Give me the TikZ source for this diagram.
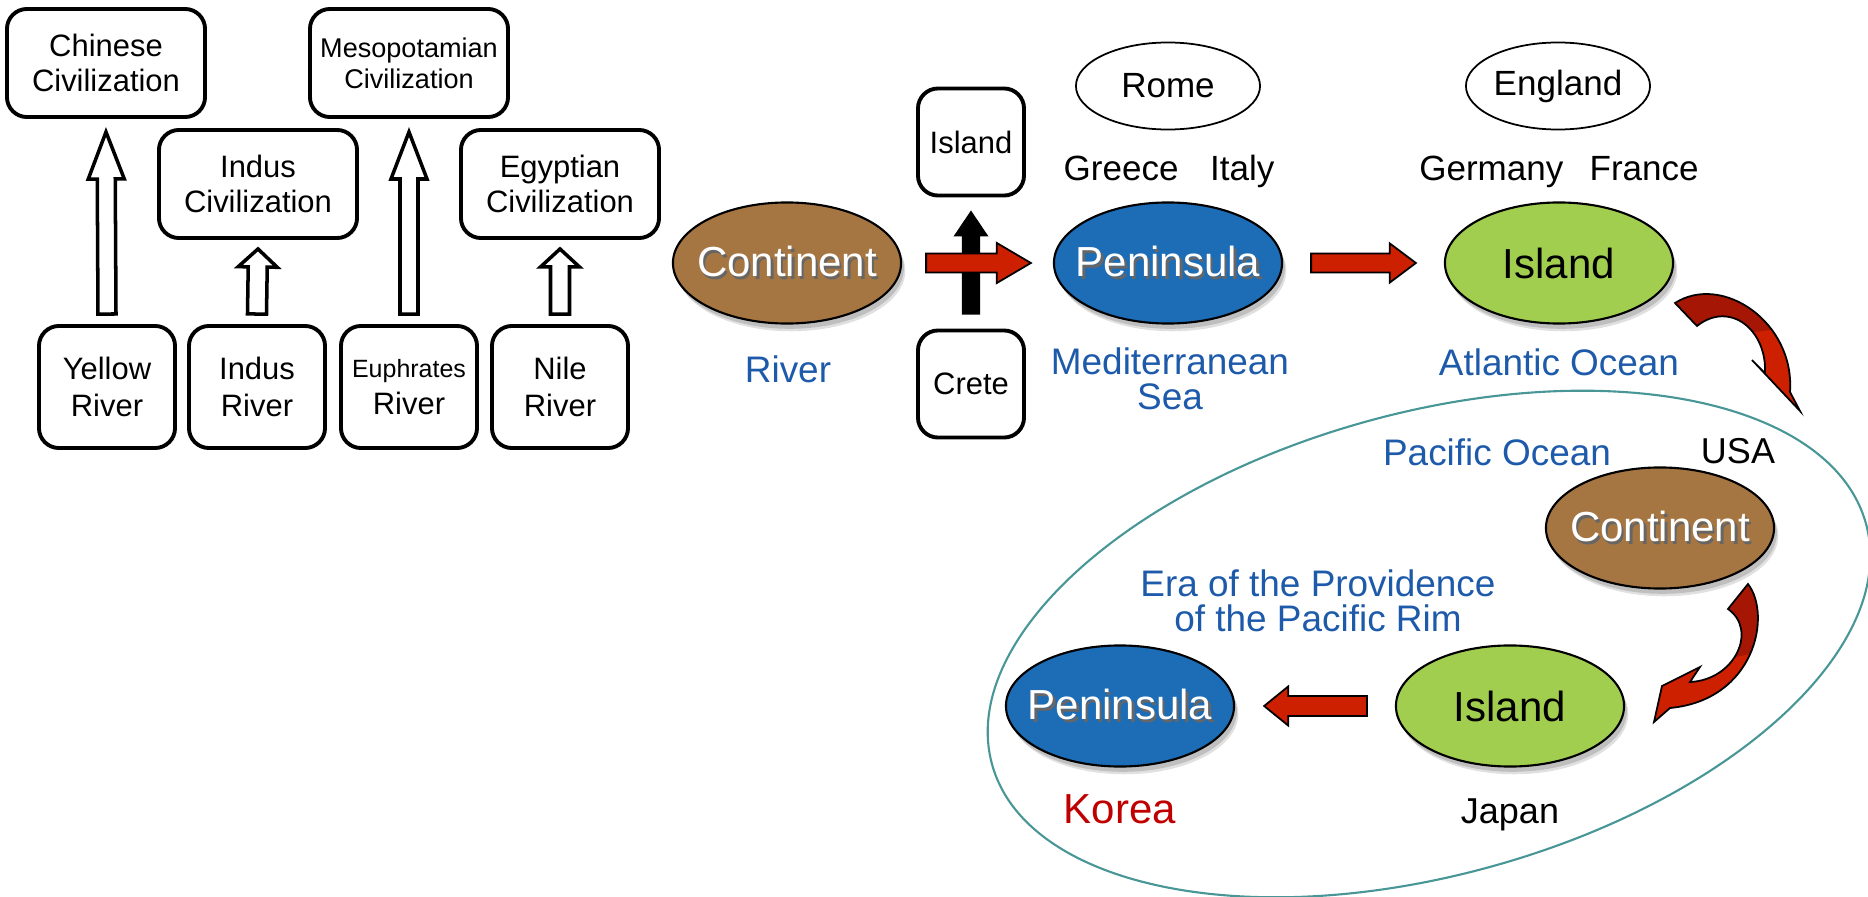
\documentclass[tikz,border=0pt]{standalone}
\usepackage{fontspec}
\setmainfont{Liberation Sans}
\usepackage{tikz}
\usetikzlibrary{shapes.geometric, arrows.meta, positioning, calc, shadows}

\definecolor{contbrown}{RGB}{166,118,66}
\definecolor{peniblue}{RGB}{28,108,182}
\definecolor{islegreen}{RGB}{162,206,80}
\definecolor{arrred}{RGB}{204,32,0}
\definecolor{arrdark}{RGB}{166,22,4}
\definecolor{seablue}{RGB}{30,90,170}
\definecolor{koreared}{RGB}{192,0,0}
\definecolor{rimteal}{RGB}{72,150,150}

% white text with a small dark shadow
\newcommand{\lit}[1]{\leavevmode\rlap{\kern0.7pt\raisebox{-0.9pt}{\textcolor{black!60}{#1}}}#1}

% block arrow: style, tail, tip, shaft half width, head half width, head length
\newcommand{\blockarrow}[6]{%
  \coordinate (ba-t) at #2;
  \coordinate (ba-h) at #3;
  \coordinate (ba-b) at ($(ba-h)!#6!(ba-t)$);
  \path[#1] ($(ba-t)!#4!90:(ba-h)$) -- ($(ba-b)!#4!90:(ba-h)$) -- ($(ba-b)!#5!90:(ba-h)$)
    -- (ba-h) -- ($(ba-b)!#5!-90:(ba-h)$) -- ($(ba-b)!#4!-90:(ba-h)$)
    -- ($(ba-t)!#4!-90:(ba-h)$) -- cycle;}

% the two bent arrows
\newcommand{\bendone}{(1675,303) .. controls (1722,273) and (1795,322) .. (1790,392)
  -- (1800,411) -- (1752,360) -- (1765,373) .. controls (1767,330) and (1730,300) .. (1697,326) -- cycle}
\newcommand{\bendtwo}{(1748,584) .. controls (1772,615) and (1755,700) .. (1670,708)
  -- (1654,722) -- (1662,686) -- (1700,667) -- (1690,682) .. controls (1735,680) and (1758,630) .. (1728,609) -- cycle}

\begin{document}
\begin{tikzpicture}[
    x=0.01cm, y=-0.01cm,
    every node/.style={inner sep=0pt},
    civbox/.style={draw, line width=1.1pt, rounded corners=0.2cm, minimum width=1.98cm,
                minimum height=1.08cm, align=center, font=\fontsize{8.8}{10.2}\selectfont},
    rivbox/.style={civbox, minimum width=1.36cm, minimum height=1.22cm,
                font=\fontsize{8.8}{10.5}\selectfont},
    isbox/.style={civbox, minimum width=1.06cm, minimum height=1.07cm},
    softshadow/.style={drop shadow={shadow xshift=1.2pt, shadow yshift=-2.2pt, opacity=.12, fill=black},
                drop shadow={shadow xshift=0.8pt, shadow yshift=-1.5pt, opacity=.15, fill=black}},
    landmass/.style={ellipse, draw, line width=0.6pt, minimum width=2.28cm, minimum height=1.21cm,
                inner xsep=-0.2cm, font=\fontsize{11.95}{14}\selectfont, softshadow},
    continent/.style={landmass, fill=contbrown, text=white},
    peninsula/.style={landmass, fill=peniblue, text=white},
    island/.style={landmass, fill=islegreen},
    city/.style={ellipse, draw, line width=0.5pt, minimum width=1.84cm, minimum height=0.87cm,
                font=\fontsize{9.96}{12}\selectfont},
    country/.style={anchor=base, font=\fontsize{9.96}{12}\selectfont},
    sea/.style={text=seablue, align=center, font=\fontsize{10.5}{9.8}\selectfont},
    hollow/.style={draw, fill=white, line width=1pt},
    redblock/.style={draw, fill=arrred, line width=0.5pt},
    blackblock/.style={fill=black},
    rim/.style={draw=rimteal, line width=0.6pt}
]
\useasboundingbox (0,0) rectangle (1868,897);

% four river civilizations
\node[civbox] (chinese) at (106,63) {Chinese\\Civilization};
\node[civbox, font=\fontsize{7.7}{8.8}\selectfont] (meso) at (409,63) {Mesopotamian\\Civilization};
\node[civbox] (indusciv) at (258,184) {Indus\\Civilization};
\node[civbox] (egypt) at (560,184) {Egyptian\\Civilization};

\node[rivbox] (yellow) at (107,387) {Yellow\\River};
\node[rivbox] (indus) at (257,387) {Indus\\River};
\node[rivbox] (euphr) at (409,387) {{\fontsize{7.1}{8}\selectfont Euphrates}\\River};
\node[rivbox] (nile) at (560,387) {Nile\\River};

\blockarrow{hollow}{($(yellow.north)+(0,-10)$)}{($(chinese.south)+(0,13)$)}{0.09cm}{0.18cm}{0.47cm}
\blockarrow{hollow}{($(indus.north)+(0,-10)$)}{($(indusciv.south)+(0,9)$)}{0.095cm}{0.195cm}{0.18cm}
\blockarrow{hollow}{($(euphr.north)+(0,-10)$)}{($(meso.south)+(0,13)$)}{0.09cm}{0.18cm}{0.47cm}
\blockarrow{hollow}{($(nile.north)+(0,-10)$)}{($(egypt.south)+(0,9)$)}{0.095cm}{0.195cm}{0.18cm}

% westward course
\node[continent] (cont1) at (787,263) {\lit{Continent}};
\node[peninsula] (pen1) at (1168,263) {\lit{Peninsula}};
\node[island] (isl1) at (1559,263) {Island};

\node[isbox] (islbox) at (971,142) {Island};
\node[isbox] (crete) at (971,384) {Crete};

\node[city] (rome) at (1168,86) {Rome};
\node[city] (england) at (1558,86) {England};

\node[country] (greece) at (1169,180) {Greece\hspace{0.9em}Italy};
\node[country] (germany) at (1559,180) {Germany\hspace{0.75em}France};

\node[sea, anchor=base] (river) at (788,383) {River};
\node[sea] (medsea) at (1170,379) {Mediterranean\\Sea};
\node[sea, anchor=base] (atlantic) at (1559,375) {Atlantic Ocean};

\blockarrow{blackblock}{($(crete.north)+(0,-14)$)}{($(islbox.south)+(0,13)$)}{0.09cm}{0.175cm}{0.26cm}
\blockarrow{redblock}{($(cont1.east)+(24,0)$)}{($(pen1.west)+(-22,0)$)}{0.095cm}{0.2cm}{0.34cm}
\blockarrow{redblock}{($(pen1.east)+(28,0)$)}{($(isl1.west)+(-28,0)$)}{0.095cm}{0.195cm}{0.26cm}

% pacific rim
\draw[rim, rotate around={15.4:(1429,644)}] (1429,644) ellipse [x radius=4.53cm, y radius=2.31cm];

\node[continent] (cont2) at (1660,528) {\lit{Continent}};
\node[island] (isl2) at (1510,706) {Island};
\node[peninsula] (pen2) at (1120,706) {\lit{Peninsula}};

\node[sea, anchor=base] (pacific) at (1497,465) {Pacific Ocean};
\node[anchor=base, font=\fontsize{10.24}{12}\selectfont] (usa) at (1738,463) {USA};
\node[sea] (era) at (1318,601) {Era of the Providence\\of the Pacific Rim};
\node[anchor=base, text=koreared, font=\fontsize{11.95}{14}\selectfont] (korea) at (1120,823) {Korea};
\node[anchor=base, font=\fontsize{10.24}{12}\selectfont] (japan) at (1510,823) {Japan};

\blockarrow{redblock}{($(isl2.west)+(-28,0)$)}{($(pen2.east)+(29,0)$)}{0.1cm}{0.195cm}{0.24cm}

\fill[arrred] \bendone;
\begin{scope}
  \clip \bendone;
  \fill[arrdark] (1650,270) -- (1810,270) -- (1810,325) -- (1650,345) -- cycle;
\end{scope}
\draw[line width=0.5pt] \bendone;

\fill[arrred] \bendtwo;
\begin{scope}
  \clip \bendtwo;
  \fill[arrdark] (1700,570) -- (1790,570) -- (1790,645) -- (1700,665) -- cycle;
\end{scope}
\draw[line width=0.5pt] \bendtwo;
\end{tikzpicture}
\end{document}
